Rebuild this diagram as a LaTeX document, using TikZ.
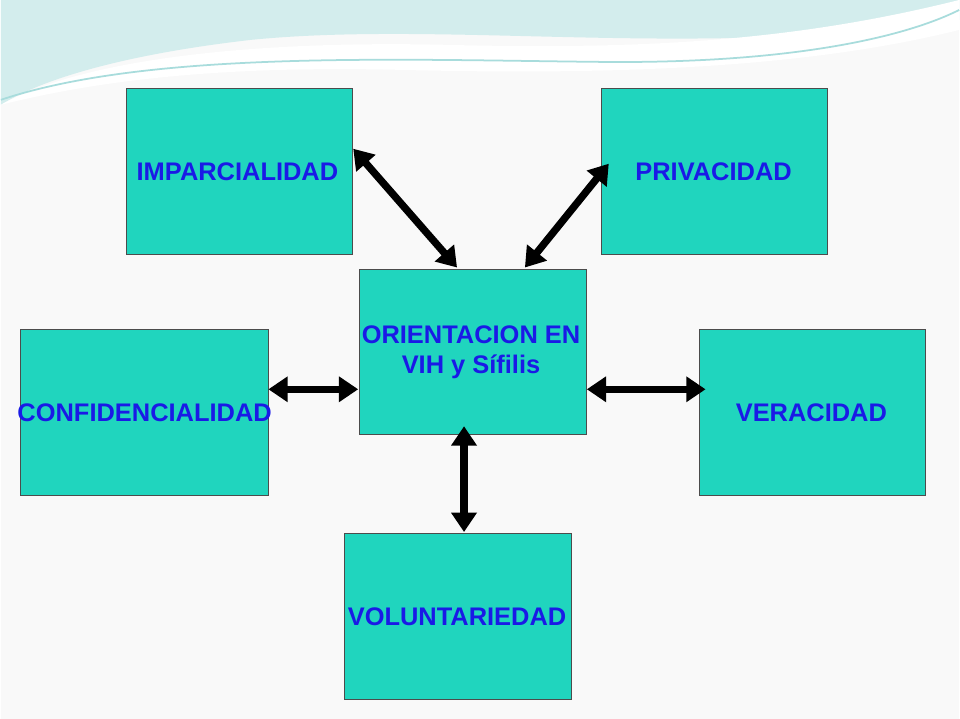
\documentclass[tikz,border=0pt]{standalone}
\usepackage{fontspec}
\setmainfont{Liberation Sans}
\usetikzlibrary{arrows.meta}
\definecolor{boxteal}{HTML}{20D5BE}
\definecolor{txtblue}{HTML}{1A1AE6}
\definecolor{wave}{HTML}{A8DCDC}
\begin{document}
\begin{tikzpicture}[x=0.02cm, y=-0.02cm]
\tikzset{ >={Triangle[length=11pt,width=14pt]},
  box/.style={draw=black!70, fill=boxteal, minimum width=4.54cm, minimum height=3.32cm, inner sep=0pt, anchor=north west},
  lbl/.style={text=txtblue, font=\bfseries\fontsize{14.5}{17.5}\selectfont, align=center},
  link/.style={<->, line width=4.2pt},
}

\fill[white!95!gray] (0,0) rectangle (960,720);
% waves at the top
\fill[wave!50] (0,0) -- (960,0) -- (960,20) .. controls (700,60) and (450,20) .. (250,40) .. controls (120,55) and (40,80) .. (0,105) -- cycle;
\fill[white] (0,105) .. controls (80,60) and (250,40) .. (450,45) .. controls (650,50) and (800,40) .. (960,0) -- (960,30) .. controls (800,70) and (600,75) .. (400,70) .. controls (200,65) and (80,85) .. (0,105);
\draw[wave, line width=1pt] (0,100) .. controls (150,50) and (400,60) .. (600,62) .. controls (780,64) and (900,40) .. (960,10);

\node [box] (IMP) at (125,88) {};
\node [box] (PRI) at (601,88) {};
\node [box] (ORI) at (359,269) {};
\node [box, minimum width=4.98cm] (CON) at (19,330) {};
\node [box] (VER) at (699,330) {};
\node [box] (VOL) at (344,534) {};

\node [lbl] (tIMP) at (237,172) {IMPARCIALIDAD};
\node [lbl] (tPRI) at (714,172) {PRIVACIDAD};
\node [lbl] (tORI) at (471,353) {ORIENTACION EN\\VIH y Sífilis};
\node [lbl] (tCON) at (144,413) {CONFIDENCIALIDAD};
\node [lbl] (tVER) at (812,413) {VERACIDAD};
\node [lbl] (tVOL) at (457,618) {VOLUNTARIEDAD};

\coordinate (a1) at (353,149);
\coordinate (a2) at (457,268);
\coordinate (b1) at (609,164);
\coordinate (b2) at (525,268);
\coordinate (c1) at (268,390);
\coordinate (c2) at (358,390);
\coordinate (d1) at (587,390);
\coordinate (d2) at (706,390);
\coordinate (e1) at (464,427);
\coordinate (e2) at (464,533);

\draw [link] (a1) -- (a2);
\draw [link] (b1) -- (b2);
\draw [link] (c1) -- (c2);
\draw [link] (d1) -- (d2);
\draw [link] (e1) -- (e2);

\end{tikzpicture}
\end{document}
